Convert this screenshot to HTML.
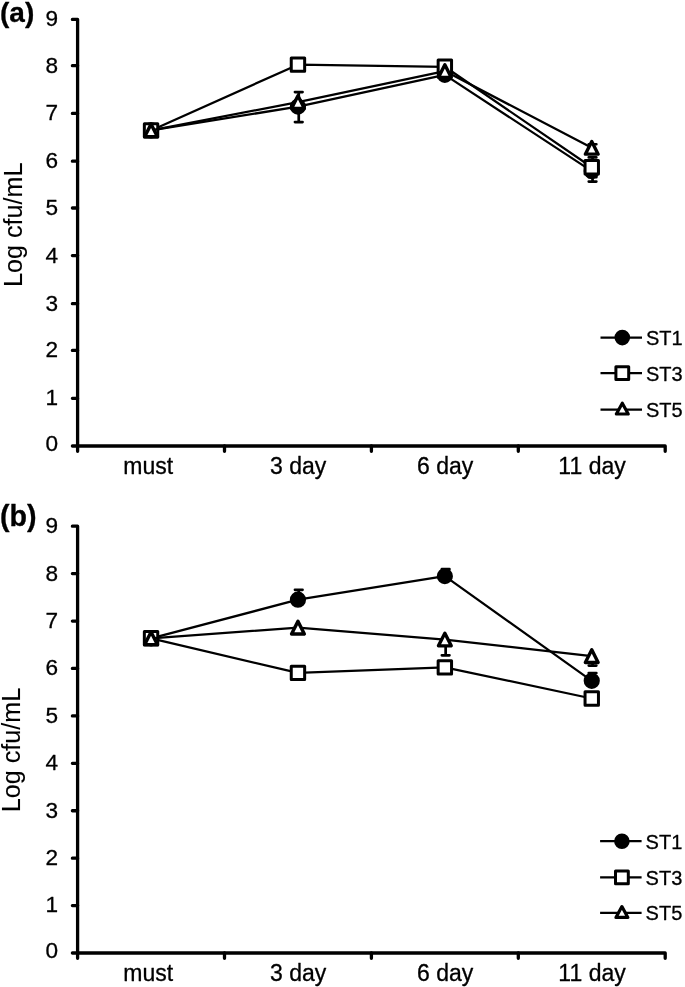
<!DOCTYPE html>
<html><head><meta charset="utf-8"><title>Figure</title>
<style>
html,body{margin:0;padding:0;background:#fff}
svg{display:block;font-family:"Liberation Sans",sans-serif;fill:#000}
text{stroke:#000;stroke-width:0.3;stroke-linejoin:round}
.yt{stroke-width:0.1}
.ax{fill:none;stroke:#000;stroke-width:3.3;stroke-linecap:round;stroke-linejoin:round}
.ln{fill:none;stroke:#000;stroke-width:2.25;stroke-linejoin:round}
.eb{fill:none;stroke:#000;stroke-width:2.7;stroke-linecap:round}
.m0{fill:#000;stroke:#000;stroke-width:2.8}
.m1{fill:#fff;stroke:#000;stroke-width:3.0;stroke-linejoin:round}
.m2{fill:#fff;stroke:#000;stroke-width:3.4;stroke-linejoin:round}
</style></head><body>
<svg width="685" height="987" viewBox="0 0 685 987">
<rect width="685" height="987" fill="#fff"/>
<text x="0" y="21.6" font-size="28" font-weight="bold">(a)</text>
<path d="M72.4 19.4H77.6V451.3M72.4 446.0H665.2V451.3" class="ax"/>
<path d="M72.4 398.30H77.6M72.4 350.45H77.6M72.4 303.70H77.6M72.4 255.60H77.6M72.4 208.00H77.6M72.4 161.20H77.6M72.4 113.40H77.6M72.4 65.70H77.6M224.50 446.0V451.3M371.40 446.0V451.3M518.30 446.0V451.3" class="ax"/>
<text x="58.2" y="451.00" font-size="22.6" text-anchor="end">0</text>
<text x="58.2" y="405.20" font-size="22.6" text-anchor="end">1</text>
<text x="58.2" y="357.35" font-size="22.6" text-anchor="end">2</text>
<text x="58.2" y="310.60" font-size="22.6" text-anchor="end">3</text>
<text x="58.2" y="262.50" font-size="22.6" text-anchor="end">4</text>
<text x="58.2" y="214.90" font-size="22.6" text-anchor="end">5</text>
<text x="58.2" y="168.10" font-size="22.6" text-anchor="end">6</text>
<text x="58.2" y="120.30" font-size="22.6" text-anchor="end">7</text>
<text x="58.2" y="72.60" font-size="22.6" text-anchor="end">8</text>
<text x="58.2" y="26.30" font-size="22.6" text-anchor="end">9</text>
<text x="148.15" y="473.5" font-size="23" text-anchor="middle">must</text>
<text x="298.25" y="473.5" font-size="23" text-anchor="middle">3 day</text>
<text x="445.15" y="473.5" font-size="23" text-anchor="middle">6 day</text>
<text x="592.05" y="473.5" font-size="23" text-anchor="middle">11 day</text>
<text transform="translate(22.4 224.8) rotate(-90)" font-size="25.2" text-anchor="middle" class="yt">Log cfu/mL</text>
<polyline points="151.05,130.41 297.95,106.62 444.85,74.86 591.75,171.08" class="ln"/>
<path d="M298.75 92.12V122.12M294.95 92.12h7.6M294.95 122.12h7.6" class="eb"/>
<path d="M592.55 160.58V181.58M588.75 160.58h7.6M588.75 181.58h7.6" class="eb"/>
<circle cx="151.05" cy="130.41" r="6.70" class="m0"/>
<circle cx="297.95" cy="106.62" r="6.70" class="m0"/>
<circle cx="444.85" cy="74.86" r="6.70" class="m0"/>
<circle cx="591.75" cy="171.08" r="6.70" class="m0"/>
<polyline points="151.05,130.41 297.95,64.67 444.85,66.80 591.75,167.29" class="ln"/>
<path d="M592.55 157.39V177.19M588.75 157.39h7.6M588.75 177.19h7.6" class="eb"/>
<rect x="144.35" y="123.71" width="13.40" height="13.40" class="m1"/>
<rect x="291.25" y="57.97" width="13.40" height="13.40" class="m1"/>
<rect x="438.15" y="60.10" width="13.40" height="13.40" class="m1"/>
<rect x="585.05" y="160.59" width="13.40" height="13.40" class="m1"/>
<polyline points="151.05,130.41 297.95,102.11 444.85,71.07 591.75,147.85" class="ln"/>
<path d="M592.55 144.25V151.45M588.75 144.25h7.6M588.75 151.45h7.6" class="eb"/>
<path d="M151.05 124.11L157.45 136.71H144.65Z" class="m2"/>
<path d="M297.95 95.81L304.35 108.41H291.55Z" class="m2"/>
<path d="M444.85 64.77L451.25 77.37H438.45Z" class="m2"/>
<path d="M591.75 141.55L598.15 154.15H585.35Z" class="m2"/>
<path d="M600.5 337.6H642" class="ln"/>
<circle cx="622.30" cy="337.60" r="6.40" class="m0"/>
<text x="646" y="344.90" font-size="20">ST1</text>
<path d="M600.5 373.2H642" class="ln"/>
<rect x="615.90" y="366.80" width="12.80" height="12.80" class="m1"/>
<text x="646" y="380.50" font-size="20">ST3</text>
<path d="M600.5 409.5H642" class="ln"/>
<path d="M622.30 403.20L628.25 414.00H616.35Z" class="m2" style="stroke-width:3.2"/>
<text x="646" y="416.80" font-size="20">ST5</text>
<text x="0" y="526.3" font-size="28.6" font-weight="bold">(b)</text>
<path d="M72.4 526.2H77.6V958.3M72.4 953.0H665.2V958.3" class="ax"/>
<path d="M72.4 905.58H77.6M72.4 858.16H77.6M72.4 810.73H77.6M72.4 763.31H77.6M72.4 715.89H77.6M72.4 668.47H77.6M72.4 621.04H77.6M72.4 573.62H77.6M224.50 953.0V958.3M371.40 953.0V958.3M518.30 953.0V958.3" class="ax"/>
<text x="58.2" y="958.00" font-size="22.6" text-anchor="end">0</text>
<text x="58.2" y="912.48" font-size="22.6" text-anchor="end">1</text>
<text x="58.2" y="865.06" font-size="22.6" text-anchor="end">2</text>
<text x="58.2" y="817.63" font-size="22.6" text-anchor="end">3</text>
<text x="58.2" y="770.21" font-size="22.6" text-anchor="end">4</text>
<text x="58.2" y="722.79" font-size="22.6" text-anchor="end">5</text>
<text x="58.2" y="675.37" font-size="22.6" text-anchor="end">6</text>
<text x="58.2" y="627.94" font-size="22.6" text-anchor="end">7</text>
<text x="58.2" y="580.52" font-size="22.6" text-anchor="end">8</text>
<text x="58.2" y="533.10" font-size="22.6" text-anchor="end">9</text>
<text x="148.15" y="980.5" font-size="23" text-anchor="middle">must</text>
<text x="298.25" y="980.5" font-size="23" text-anchor="middle">3 day</text>
<text x="445.15" y="980.5" font-size="23" text-anchor="middle">6 day</text>
<text x="592.05" y="980.5" font-size="23" text-anchor="middle">11 day</text>
<text transform="translate(20.3 750.0) rotate(-90)" font-size="25.2" text-anchor="middle" class="yt">Log cfu/mL</text>
<polyline points="151.05,638.31 297.95,599.70 444.85,576.14 591.75,680.80" class="ln"/>
<path d="M298.75 589.80V599.70M294.95 589.80h7.6" class="eb"/>
<path d="M445.65 569.14V576.14M441.85 569.14h7.6" class="eb"/>
<path d="M592.55 673.00V680.80M588.75 673.00h7.6" class="eb"/>
<circle cx="151.05" cy="638.31" r="6.70" class="m0"/>
<circle cx="297.95" cy="599.70" r="6.70" class="m0"/>
<circle cx="444.85" cy="576.14" r="6.70" class="m0"/>
<circle cx="591.75" cy="680.80" r="6.70" class="m0"/>
<polyline points="151.05,638.31 297.95,672.92 444.85,667.33 591.75,698.48" class="ln"/>
<rect x="144.35" y="631.61" width="13.40" height="13.40" class="m1"/>
<rect x="291.25" y="666.22" width="13.40" height="13.40" class="m1"/>
<rect x="438.15" y="660.63" width="13.40" height="13.40" class="m1"/>
<rect x="585.05" y="691.78" width="13.40" height="13.40" class="m1"/>
<polyline points="151.05,638.31 297.95,627.68 444.85,639.54 591.75,656.14" class="ln"/>
<path d="M445.65 639.54V655.34M441.85 655.34h7.6" class="eb"/>
<path d="M592.55 656.14V665.54M588.75 665.54h7.6" class="eb"/>
<path d="M151.05 632.01L157.45 644.61H144.65Z" class="m2"/>
<path d="M297.95 621.38L304.35 633.98H291.55Z" class="m2"/>
<path d="M444.85 633.24L451.25 645.84H438.45Z" class="m2"/>
<path d="M591.75 649.84L598.15 662.44H585.35Z" class="m2"/>
<path d="M600.1 841.2H641.6" class="ln"/>
<circle cx="621.90" cy="841.20" r="6.40" class="m0"/>
<text x="645.6" y="848.50" font-size="20">ST1</text>
<path d="M600.1 877.3H641.6" class="ln"/>
<rect x="615.50" y="870.90" width="12.80" height="12.80" class="m1"/>
<text x="645.6" y="884.60" font-size="20">ST3</text>
<path d="M600.1 912.9H641.6" class="ln"/>
<path d="M621.90 906.60L627.85 917.40H615.95Z" class="m2" style="stroke-width:3.2"/>
<text x="645.6" y="920.20" font-size="20">ST5</text>
</svg>
</body></html>
